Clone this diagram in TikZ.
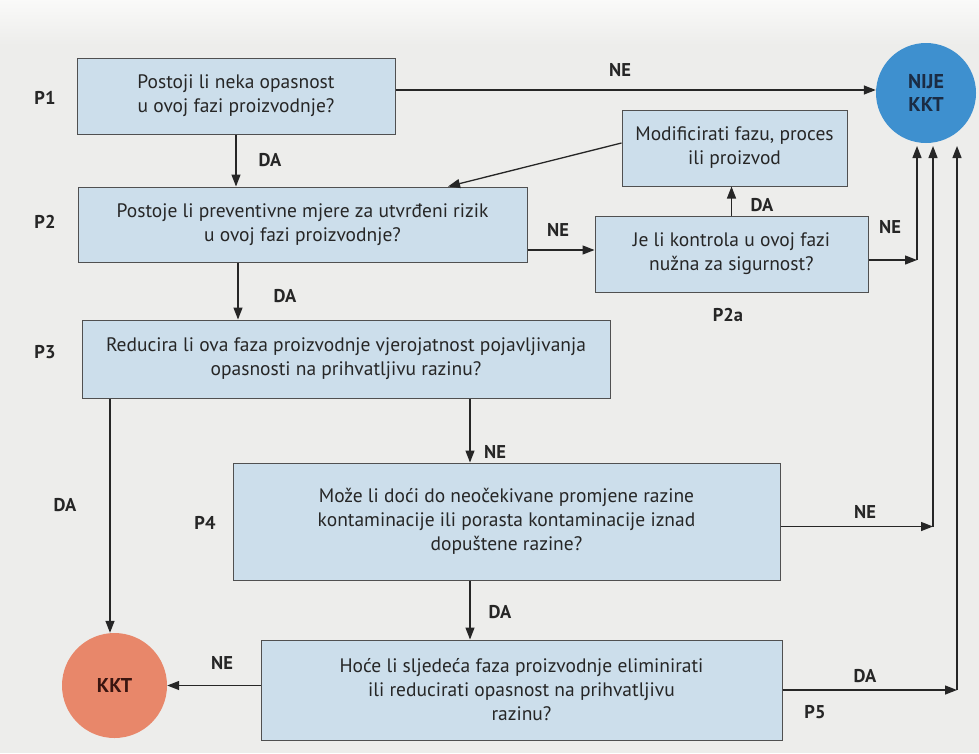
\documentclass[tikz,border=0pt]{standalone}
\usepackage{fontspec}
\setmainfont{PT Sans}
\usetikzlibrary{arrows.meta,calc}
\definecolor{bg}{HTML}{EDEDEB}
\definecolor{boxfill}{HTML}{CCDEEB}
\definecolor{boxline}{HTML}{505050}
\definecolor{nijec}{HTML}{3E90CF}
\definecolor{kktc}{HTML}{E8876A}
\definecolor{ink}{HTML}{262626}
\definecolor{nijetext}{HTML}{1B2C44}
\definecolor{kkttext}{HTML}{3A1510}
\begin{document}
\begin{tikzpicture}[x=1pt,y=-1pt,
  qbox/.style={draw=boxline, line width=1pt, fill=boxfill, inner sep=0pt, align=center,
    font=\fontsize{19.5}{24}\selectfont, text=ink},
  lab/.style={font=\fontsize{18.5}{22}\selectfont\bfseries, text=ink, inner sep=0pt},
  arr/.style={draw=ink, line width=1.3pt, -{Triangle[length=12pt,width=9pt]}},
  circ/.style={circle, inner sep=0pt, align=center, font=\fontsize{20}{23}\selectfont\bfseries}
]
\fill[bg] (0,0) rectangle (979,753);
\shade[top color=white!70!bg, bottom color=bg] (0,0) rectangle (979,45);
\useasboundingbox (0,0) rectangle (979,753);

% boxes
\node[qbox, minimum width=318, minimum height=76] (p1) at (236,96)
  {Postoji li neka opasnost\\u ovoj fazi proizvodnje?};
\node[qbox, minimum width=449, minimum height=75] (p2) at (302.5,224.5)
  {Postoje li preventivne mjere za utvrđeni rizik\\u ovoj fazi proizvodnje?};
\node[qbox, minimum width=225, minimum height=76] (modif) at (734.5,148)
  {Modificirati fazu, proces\\ili proizvod};
\node[qbox, minimum width=273, minimum height=76] (jeli) at (731.5,254)
  {Je li kontrola u ovoj fazi\\nužna za sigurnost?};
\node[qbox, minimum width=528, minimum height=78] (p3) at (346,359)
  {Reducira li ova faza proizvodnje vjerojatnost pojavljivanja\\opasnosti na prihvatljivu razinu?};
\node[qbox, minimum width=547, minimum height=117] (p4) at (506.5,521.5)
  {Može li doći do neočekivane promjene razine\\kontaminacije ili porasta kontaminacije iznad\\dopuštene razine?};
\node[qbox, minimum width=521, minimum height=100] (p5) at (521.5,690)
  {Hoće li sljedeća faza proizvodnje eliminirati\\ili reducirati opasnost na prihvatljivu\\razinu?};

% circles
\node[circ, fill=nijec, minimum size=100, text=nijetext] (nije) at (926,93) {NIJE\\KKT};
\node[circ, fill=kktc, minimum size=105, text=kkttext] (kkt) at (114.5,685.5) {KKT};

% side labels
\node[lab] (lp1) at (45,98) {P1};
\node[lab] (lp2) at (45,222) {P2};
\node[lab] (lp3) at (45,352) {P3};
\node[lab] (lp4) at (205,523) {P4};
\node[lab] (lp5) at (815,712) {P5};
\node[lab] (lp2a) at (728,315) {P2a};

% helper coordinates
\coordinate (c110) at (110,0);
\coordinate (c238) at (238,0);
\coordinate (c448) at (448,0);
\coordinate (c470) at (470,0);
\coordinate (a1) at (917,146);
\coordinate (a2) at (933,146);
\coordinate (a3) at (957,146);

% connectors
\draw[arr] ([yshift=6pt]p1.east) -- ([yshift=6pt]p1.east -| nije.west);
\draw[arr] (p1.south) -- (p1.south |- p2.north);
\draw[arr] (p2.south -| c238) -- (p3.north -| c238);
\draw[arr] ([yshift=4pt]p2.east |- jeli.west) -- ([yshift=4pt]jeli.west);
\draw[arr] (jeli.north) -- (jeli.north |- modif.south);
\draw[arr] ([yshift=5pt]modif.west) -- (p2.north -| c448);
\coordinate (j1) at ([yshift=-6pt]jeli.east -| a1);
\draw[arr] ([yshift=-6pt]jeli.east) -- (j1);
\draw[arr] (j1) -- (a1);
\draw[arr] (p3.south -| c110) -- (kkt.north -| c110);
\draw[arr] (p3.south -| c470) -- (p4.north -| c470);
\coordinate (j2) at ([yshift=-5pt]p4.east -| a2);
\draw[arr] ([yshift=-5pt]p4.east) -- (j2);
\draw[arr] (j2) -- (a2);
\draw[arr] (p4.south -| c470) -- (p5.north -| c470);
\coordinate (j3) at (p5.east -| a3);
\draw[arr] (p5.east) -- (j3);
\draw[arr] (j3) -- (a3);
\draw[arr] (p5.west |- kkt.east) -- (kkt.east);

% connector labels
\node[lab] (ne1) at (620,70) {NE};
\node[lab] (da1) at (270,160) {DA};
\node[lab] (ne2) at (558,230) {NE};
\node[lab] (da2) at (762,205) {DA};
\node[lab] (ne3) at (890,227) {NE};
\node[lab] (da3) at (285,296) {DA};
\node[lab] (da4) at (65,505) {DA};
\node[lab] (ne4) at (495,452) {NE};
\node[lab] (ne5) at (865,512) {NE};
\node[lab] (da5) at (500,612) {DA};
\node[lab] (da6) at (865,676) {DA};
\node[lab] (ne6) at (222,663) {NE};
\end{tikzpicture}
\end{document}
